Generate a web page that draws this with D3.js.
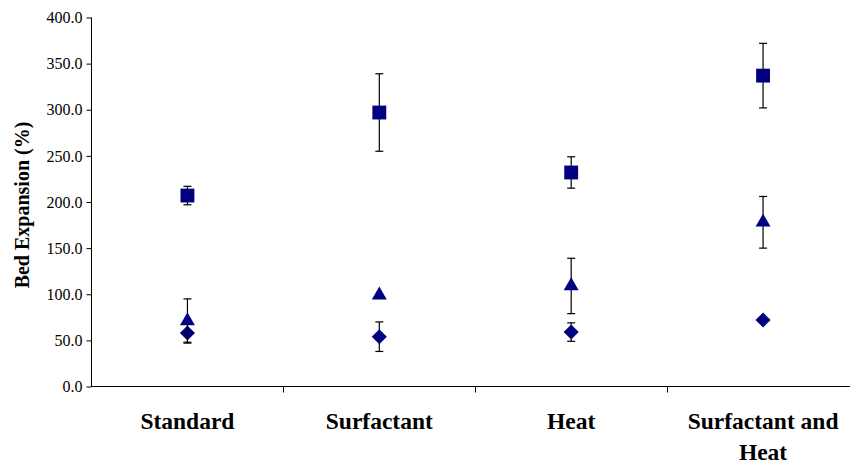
<html>
<head>
<meta charset="utf-8">
<title>Bed Expansion</title>
<style>
  body { margin: 0; background: #fff; }
  text { font-family: "Liberation Serif", "Times New Roman", serif; }
</style>
</head>
<body>
<script src="https://cdn.jsdelivr.net/npm/d3@7"></script>
<script>
// data
var categories = ["Standard", "Surfactant", "Heat", "Surfactant and Heat"];
var squareVals = [207, 297, 232, 337];
var squareErr = [10, 42, 17, 35];
var triangleVals = [71, 99, 109, 178];
var triangleErr = [24, 0, 30, 28];
var diamondVals = [58, 54, 59, 72];
var diamondErr = [10, 16, 10, 0];
var yTicks = [0, 50, 100, 150, 200, 250, 300, 350, 400];

var width = 850, height = 464;
var plotLeft = 91.5, plotTop = 17.5, plotBottom = 386.5, plotRight = 859;

var svg = d3.select("body").append("svg")
    .attr("width", width)
    .attr("height", height);

var x = d3.scaleBand().domain(categories).range([plotLeft, plotRight]);
var y = d3.scaleLinear().domain([0, 400]).range([plotBottom, plotTop]);

// y axis
var yAxis = svg.append("g")
    .attr("transform", "translate(" + plotLeft + ",0)")
    .call(d3.axisLeft(y).tickValues(yTicks).tickSize(5).tickPadding(4).tickFormat(d3.format(".1f")));
yAxis.select(".domain").attr("d", "M0," + y(0) + "V" + y(400)).attr("stroke", "#000");
yAxis.selectAll(".tick line").attr("stroke", "#000");
yAxis.selectAll("text").attr("font-size", 16).attr("fill", "#000")
    .style("font-family", "'Liberation Serif', serif");

// x axis (ticks at category boundaries)
var xg = svg.append("g").attr("transform", "translate(0," + plotBottom + ")");
xg.append("line").attr("x1", plotLeft).attr("x2", plotRight).attr("stroke", "#000");
xg.selectAll(".xt").data(categories.slice(1)).enter().append("line")
    .attr("x1", function (d) { return Math.round(x(d)) + 0.5; })
    .attr("x2", function (d) { return Math.round(x(d)) + 0.5; })
    .attr("y1", 0).attr("y2", 6).attr("stroke", "#000");

// category labels
categories.forEach(function (c) {
    var cx = x(c) + x.bandwidth() / 2;
    var lines = c === "Surfactant and Heat" ? ["Surfactant and", "Heat"] : [c];
    lines.forEach(function (l, i) {
        svg.append("text")
            .attr("x", cx).attr("y", 429 + i * 31)
            .attr("text-anchor", "middle")
            .attr("font-size", 23.5).attr("font-weight", "bold")
            .text(l);
    });
});

// y label
svg.append("text")
    .attr("transform", "translate(29,205) rotate(-90)")
    .attr("text-anchor", "middle")
    .attr("font-size", 20).attr("font-weight", "bold")
    .text("Bed Expansion (%)");

var navy = "#000080";
function cxOf(i) { return x(categories[i]) + x.bandwidth() / 2; }

function drawSeries(vals, errs, symbolType, size) {
    var g = svg.append("g");
    // error bars
    vals.forEach(function (v, i) {
        if (!errs[i]) return;
        var cx = cxOf(i);
        var y1 = y(v + errs[i]), y2 = y(v - errs[i]);
        g.append("line").attr("x1", cx).attr("x2", cx).attr("y1", y1).attr("y2", y2)
            .attr("stroke", "#000").attr("stroke-width", 1.2);
        [y1, y2].forEach(function (yy) {
            g.append("line").attr("x1", cx - 4).attr("x2", cx + 4).attr("y1", yy).attr("y2", yy)
                .attr("stroke", "#000").attr("stroke-width", 1.2);
        });
    });
    g.selectAll("path.m").data(vals).enter().append("path")
        .attr("transform", function (d, i) { return "translate(" + cxOf(i) + "," + y(d) + ")"; })
        .attr("d", d3.symbol().type(symbolType).size(size))
        .attr("fill", navy);
}

drawSeries(diamondVals, diamondErr, d3.symbolDiamond2, 145);
drawSeries(triangleVals, triangleErr, d3.symbolTriangle2, 160);
drawSeries(squareVals, squareErr, d3.symbolSquare2, 245);
</script>
</body>
</html>
